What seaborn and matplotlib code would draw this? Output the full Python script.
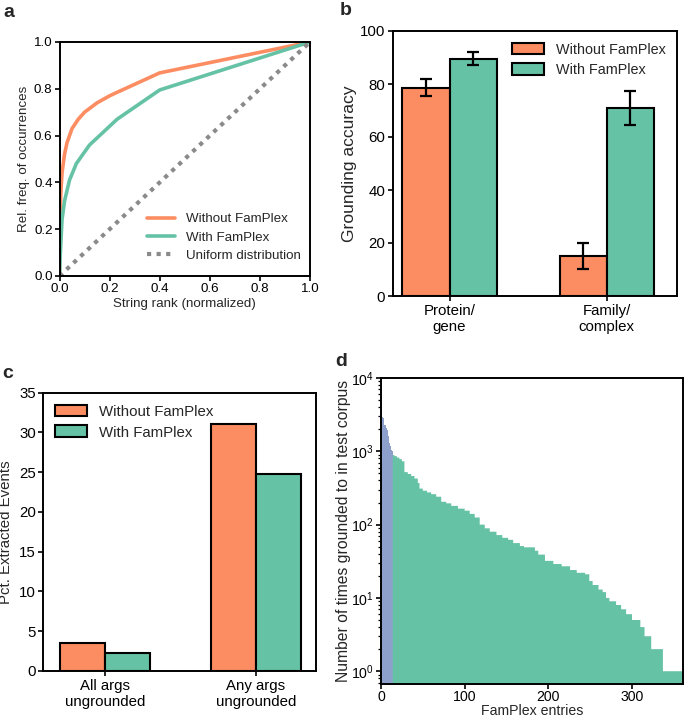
import numpy as np
import pandas as pd
import matplotlib
matplotlib.use("Agg")
import matplotlib.pyplot as plt
import seaborn as sns
from matplotlib.patches import Patch

sns.set_theme(style="ticks")
plt.rcParams["font.family"] = ["Liberation Sans", "DejaVu Sans"]
plt.rcParams["axes.linewidth"] = 1.4
plt.rcParams["xtick.major.width"] = 1.2
plt.rcParams["ytick.major.width"] = 1.2
plt.rcParams["xtick.major.size"] = 3.5
plt.rcParams["ytick.major.size"] = 3.5
plt.rcParams["xtick.color"] = "black"
plt.rcParams["ytick.color"] = "black"
plt.rcParams["axes.edgecolor"] = "black"

ORANGE = "#FC8D62"
GREEN = "#66C2A5"
BLUE = "#8DA0CB"

# ---------------- data ----------------
# panel a
rank_without = [0, 0.002, 0.005, 0.01, 0.02, 0.03, 0.05, 0.075, 0.1, 0.15, 0.2, 0.23, 0.4, 1.0]
freq_without = [0, 0.20, 0.35, 0.44, 0.52, 0.57, 0.63, 0.67, 0.70, 0.74, 0.77, 0.785, 0.868, 1.0]
rank_with = [0, 0.003, 0.01, 0.02, 0.04, 0.067, 0.1, 0.12, 0.16, 0.2, 0.23, 0.4, 1.0]
freq_with = [0, 0.09, 0.24, 0.32, 0.41, 0.48, 0.53, 0.56, 0.60, 0.64, 0.67, 0.795, 1.0]
uniform_x = [0, 1]
uniform_y = [0, 1]

# panel b
b_categories = ["Protein/\ngene", "Family/\ncomplex"]
b_without = [78.6, 15.1]
b_with = [89.6, 71.1]
b_without_err = [3.2, 4.9]
b_with_err = [2.4, 6.4]

# panel c
c_categories = ["All args\nungrounded", "Any args\nungrounded"]
c_without = [3.56, 31.1]
c_with = [2.3, 24.7]

# panel d (counts per FamPlex entry, sorted)
d_top_counts = [5650, 2900, 2850, 2400, 2300, 2250, 2050, 1950, 1600, 1500, 1300, 1200, 1050, 1000]
d_level_counts = [890, 860, 820, 780, 730, 520, 490, 460, 425, 370, 310, 290, 275, 260, 240,
                  205, 195, 180, 165, 155, 140, 125, 100, 89, 80, 72, 66, 62, 56, 51, 49,
                  44, 39, 32, 29, 27, 24, 22, 21, 17, 15, 13, 12, 10, 9, 8, 7, 6, 5, 4, 3, 2, 1]
d_level_runs = [2, 3, 3, 3, 3, 4, 4, 4, 4, 2, 4, 5, 5, 6, 6,
                6, 6, 8, 8, 6, 6, 6, 6, 6, 8, 7, 7, 6, 8, 5, 13,
                4, 8, 10, 10, 10, 8, 10, 5, 4, 7, 5, 4, 4, 8, 6, 6, 7, 10, 5, 8, 14, 24]

# ---------------- figure ----------------
W, H = 685, 717
fig = plt.figure(figsize=(W / 100, H / 100), dpi=100)


def ax_at(l, t, r, b):
    return fig.add_axes([l / W, 1 - b / H, (r - l) / W, (b - t) / H])


def style_box(ax):
    for s in ax.spines.values():
        s.set_visible(True)
        s.set_color("black")
        s.set_linewidth(1.4)


# ---- panel a ----
axa = ax_at(59.5, 42, 310, 276)
fsa = 9.6
sns.lineplot(x=rank_without, y=freq_without, color=ORANGE, lw=2.6, ax=axa,
             estimator=None, sort=False, label="Without FamPlex")
sns.lineplot(x=rank_with, y=freq_with, color=GREEN, lw=2.6, ax=axa,
             estimator=None, sort=False, label="With FamPlex")
sns.lineplot(x=uniform_x, y=uniform_y, color="#8a8a8a", lw=3.0, ax=axa,
             estimator=None, sort=False, label="Uniform distribution",
             linestyle=(0, (1, 1.3)))
axa.set_xlim(0, 1)
axa.set_ylim(0, 1)
axa.set_xticks(np.arange(0, 1.01, 0.2))
axa.set_yticks(np.arange(0, 1.01, 0.2))
axa.set_xticklabels([f"{v:.1f}" for v in np.arange(0, 1.01, 0.2)], fontsize=fsa)
axa.set_yticklabels([f"{v:.1f}" for v in np.arange(0, 1.01, 0.2)], fontsize=fsa)
axa.set_xlabel("String rank (normalized)", fontsize=fsa, labelpad=2)
axa.set_ylabel("Rel. freq. of occurrences", fontsize=fsa, labelpad=3)
axa.tick_params(pad=1.5)
style_box(axa)
axa.legend(loc="lower right", frameon=False, fontsize=fsa, handlelength=2.1,
           bbox_to_anchor=(1.0, 0.02), borderaxespad=0.3, labelspacing=0.45)

# ---- panel b ----
axb = ax_at(393, 31, 677, 296)
fsb = 10.8
dfb = pd.DataFrame({
    "category": b_categories * 2,
    "condition": ["Without FamPlex"] * 2 + ["With FamPlex"] * 2,
    "value": b_without + b_with,
})
sns.barplot(data=dfb, x="category", y="value", hue="condition",
            palette=[ORANGE, GREEN], width=0.6, edgecolor="black", linewidth=1.5,
            errorbar=None, saturation=1, ax=axb)
for cont, errs in zip(axb.containers, [b_without_err, b_with_err]):
    xs = [p.get_x() + p.get_width() / 2 for p in cont]
    ys = [p.get_height() for p in cont]
    axb.errorbar(xs, ys, yerr=errs, fmt="none", ecolor="black", elinewidth=1.6,
                 capsize=4.5, capthick=1.6)
axb.set_xlim(-0.36, 1.447)
axb.set_ylim(0, 100)
axb.set_yticks([0, 20, 40, 60, 80, 100])
axb.tick_params(labelsize=fsb, pad=2)
axb.set_xlabel("")
axb.set_ylabel("Grounding accuracy", fontsize=12.6, labelpad=2)
style_box(axb)
hb = [Patch(facecolor=ORANGE, edgecolor="black", linewidth=1.5, label="Without FamPlex"),
      Patch(facecolor=GREEN, edgecolor="black", linewidth=1.5, label="With FamPlex")]
axb.legend(handles=hb, loc="upper right", frameon=False, fontsize=10.4,
           handlelength=2.2, handleheight=0.85, bbox_to_anchor=(1.0, 1.0),
           borderaxespad=0.4, labelspacing=0.45)

# ---- panel c ----
axc = ax_at(43.5, 392.5, 316, 671)
fsc = 10.8
dfc = pd.DataFrame({
    "category": c_categories * 2,
    "condition": ["Without FamPlex"] * 2 + ["With FamPlex"] * 2,
    "value": c_without + c_with,
})
sns.barplot(data=dfc, x="category", y="value", hue="condition",
            palette=[ORANGE, GREEN], width=0.6, edgecolor="black", linewidth=1.5,
            errorbar=None, saturation=1, ax=axc)
axc.set_xlim(-0.41, 1.40)
axc.set_ylim(0, 35)
axc.set_yticks(range(0, 36, 5))
axc.tick_params(labelsize=fsc, pad=2)
axc.set_xlabel("")
axc.set_ylabel("Pct. Extracted Events", fontsize=fsc, labelpad=4)
style_box(axc)
hc = [Patch(facecolor=ORANGE, edgecolor="black", linewidth=1.5, label="Without FamPlex"),
      Patch(facecolor=GREEN, edgecolor="black", linewidth=1.5, label="With FamPlex")]
axc.legend(handles=hc, loc="upper left", frameon=False, fontsize=fsc,
           handlelength=2.1, handleheight=0.85, bbox_to_anchor=(0.0, 1.0),
           borderaxespad=0.4, labelspacing=0.45)

# ---- panel d ----
axd = ax_at(381, 378, 683, 683.5)
fsd = 10.2
d_counts = np.array(d_top_counts + list(np.repeat(d_level_counts, d_level_runs)), dtype=float)
N = len(d_counts)
n_top = len(d_top_counts)
dfd = pd.DataFrame({"pos": np.arange(N) + 0.5, "count": d_counts})
sns.histplot(data=dfd.iloc[:n_top], x="pos", weights="count", bins=list(range(0, n_top + 1)),
             element="step", fill=True, color=BLUE, alpha=1, linewidth=0, ax=axd)
sns.histplot(data=dfd.iloc[n_top:], x="pos", weights="count", bins=list(range(n_top, N + 1)),
             element="step", fill=True, color=GREEN, alpha=1, linewidth=0, ax=axd)
axd.set_yscale("log")
axd.set_xlim(0, N)
axd.set_ylim(0.68, 1e4)
axd.set_xticks([0, 100, 200, 300])
axd.tick_params(labelsize=fsd, pad=1.5)
axd.tick_params(axis="y", which="minor", length=2, width=0.9, left=True)
axd.set_xlabel("FamPlex entries", fontsize=fsd, labelpad=-0.5)
axd.set_ylabel("Number of times grounded to in test corpus", fontsize=11.3, labelpad=0)
style_box(axd)

# panel letters
for letter, x, y in [("a", 3, 17), ("b", 340, 15), ("c", 2, 378), ("d", 335, 366)]:
    fig.text(x / W, 1 - y / H, letter, fontsize=14, fontweight="bold", va="baseline", ha="left")

fig.savefig("out.png", dpi=100)
